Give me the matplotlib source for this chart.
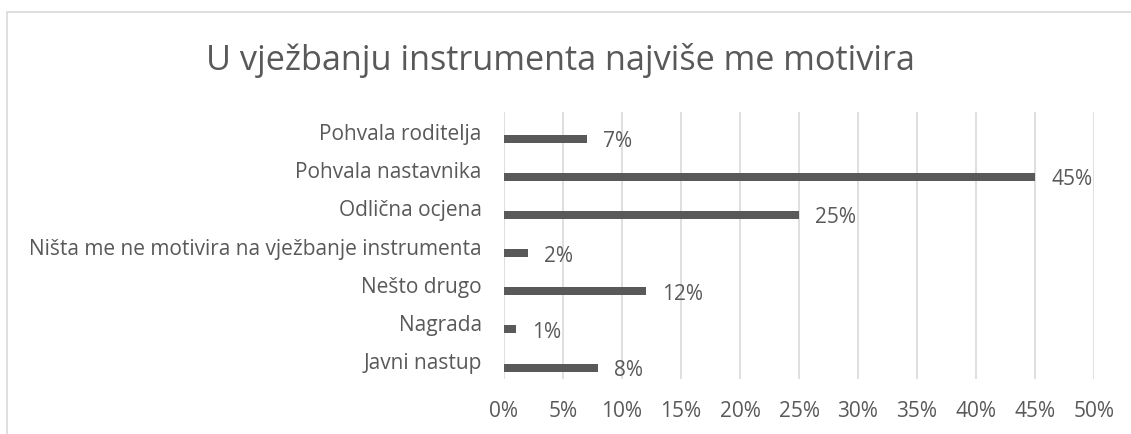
import matplotlib.pyplot as plt
from matplotlib.patches import Rectangle

# Data
categories = [
    "Pohvala roditelja",
    "Pohvala nastavnika",
    "Odlična ocjena",
    "Ništa me ne motivira na vježbanje instrumenta",
    "Nešto drugo",
    "Nagrada",
    "Javni nastup",
]
values = [7, 45, 25, 2, 12, 1, 8]
xticks = [0, 5, 10, 15, 20, 25, 30, 35, 40, 45, 50]
title = "U vježbanju instrumenta najviše me motivira"

txt = "#595959"
bar_col = "#595959"
grid_col = "#D9D9D9"

plt.rcParams["font.family"] = ["Open Sans", "DejaVu Sans"]

fig = plt.figure(figsize=(11.31, 4.35), dpi=100)
W, H = 1131, 435

# chart frame (light border, cut off on right and bottom)
fig.patches.append(Rectangle((7 / W, -0.2), 2.0, 1 - 13 / H + 0.2,
                             transform=fig.transFigure, fill=False,
                             edgecolor=grid_col, linewidth=1.2))

ax = fig.add_axes([504 / W, 1 - 380 / H, (1094 - 504) / W, (380 - 113) / H])

ypos = list(range(len(categories)))
bar_y = [y + 0.2 for y in ypos]
ax.barh(bar_y, values, height=0.21, color=bar_col, zorder=3)

for y, v in zip(bar_y, values):
    ax.annotate(f"{v}%", (v, y), xytext=(16, -2), textcoords="offset pixels",
                ha="left", va="center", fontsize=15, color=txt)

ax.set_xlim(0, 50)
ax.set_ylim(len(categories) - 0.5, -0.5)
ax.set_xticks(xticks)
ax.set_xticklabels([f"{t}%" for t in xticks])
ax.set_yticks(ypos)
ax.set_yticklabels(categories)
ax.tick_params(axis="both", length=0, labelsize=15, labelcolor=txt)
ax.tick_params(axis="x", pad=15)
ax.tick_params(axis="y", pad=16)
ax.grid(axis="x", color=grid_col, linewidth=1.2, zorder=0)
for s in ax.spines.values():
    s.set_visible(False)

fig.text(560 / W, 1 - 61 / H, title, ha="center", va="center",
         fontsize=24.7, color=txt)

fig.savefig("out.png", dpi=100)
